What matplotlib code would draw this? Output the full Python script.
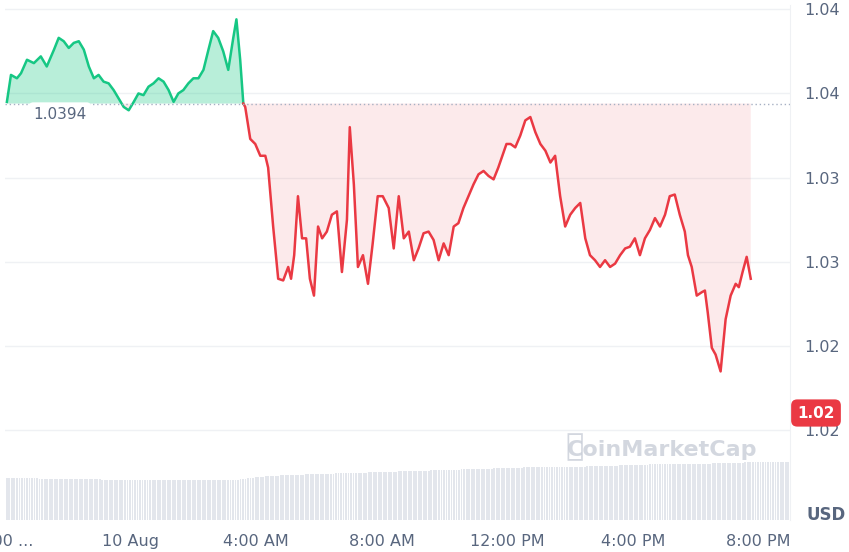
import matplotlib
matplotlib.use("Agg")
import matplotlib.pyplot as plt
import numpy as np

# readings from the chart: time position (hours since 10 Aug 00:00) and price
hours = [-3.94,-3.81,-3.62,-3.49,-3.3,-3.08,-2.86,-2.67,-2.44,-2.29,-2.13,-1.97,-1.81,-1.65,-1.49,-1.33,-1.17,-1.02,-0.86,-0.7,-0.54,-0.38,-0.22,-0.06,0.1,0.25,0.41,0.57,0.73,0.89,1.05,1.21,1.37,1.52,1.68,1.84,2.0,2.16,2.32,2.48,2.63,2.79,2.95,3.11,3.27,3.37,3.49,3.59,
 3.65,3.81,3.97,4.13,4.29,4.38,4.54,4.7,4.86,5.02,5.11,5.21,5.33,5.46,5.59,5.71,5.84,5.97,6.1,6.25,6.41,6.57,6.73,6.89,6.98,7.11,7.24,7.4,7.56,7.71,7.87,8.03,8.22,8.38,8.54,8.7,8.86,9.02,9.17,9.33,9.49,9.65,9.81,9.97,10.13,10.29,10.44,10.6,10.76,10.92,11.08,11.24,11.4,11.56,11.71,11.84,11.97,12.1,12.25,12.41,12.57,12.73,12.89,13.05,13.21,13.37,13.52,13.68,13.84,14.0,14.16,14.32,14.48,14.63,14.79,14.95,15.11,15.27,15.43,15.59,15.75,15.9,16.06,16.22,16.38,16.54,16.7,16.86,17.02,17.17,17.33,17.49,17.65,17.75,17.87,18.03,18.19,18.29,18.38,18.51,18.63,18.79,18.95,19.11,19.27,19.37,19.49,19.62,19.75]
price = [1.0395,1.0411,1.0409,1.0412,1.0420,1.0418,1.0422,1.0416,1.0426,1.0433,1.0431,1.0427,1.0430,1.0431,1.0426,1.0416,1.0409,1.0411,1.0407,1.0406,1.0402,1.0397,1.0392,1.0390,1.0395,1.0400,1.0399,1.0404,1.0406,1.0409,1.0407,1.0402,1.0395,1.0400,1.0402,1.0406,1.0409,1.0409,1.0414,1.0426,1.0437,1.0433,1.0425,1.0414,1.0433,1.0444,1.0420,1.0394,
 1.0392,1.0373,1.0370,1.0363,1.0363,1.0356,1.0321,1.0290,1.0289,1.0297,1.0290,1.0304,1.0339,1.0314,1.0314,1.0290,1.0280,1.0321,1.0314,1.0318,1.0328,1.0330,1.0294,1.0325,1.0380,1.0346,1.0297,1.0304,1.0287,1.0311,1.0339,1.0339,1.0332,1.0308,1.0339,1.0314,1.0318,1.0301,1.0308,1.0317,1.0318,1.0313,1.0301,1.0311,1.0304,1.0321,1.0323,1.0332,1.0339,1.0346,1.0352,1.0354,1.0351,1.0349,1.0356,1.0363,1.0370,1.0370,1.0368,1.0375,1.0384,1.0386,1.0377,1.0370,1.0366,1.0359,1.0363,1.0339,1.0321,1.0328,1.0332,1.0335,1.0314,1.0304,1.0301,1.0297,1.0301,1.0297,1.0299,1.0304,1.0308,1.0309,1.0314,1.0304,1.0314,1.0319,1.0326,1.0321,1.0328,1.0339,1.0340,1.0328,1.0318,1.0304,1.0297,1.0280,1.0282,1.0283,1.0270,1.0249,1.0245,1.0235,1.0266,1.0280,1.0287,1.0285,1.0294,1.0303,1.0290,1.0270,1.0259,1.0235,1.0214,1.0221,1.0214,1.0214,1.0219]
baseline = 1.0394
vol_hours = [-4,-2,0,2,3.3,4,5,6,7,8,9,10,11,12,13,14,15,16,17,18,19,20,21]
volume = [42,41,40,40,40,43,45,46,47,48,49,50,51,52,53,53,54,55,56,56,57,58,58]

n = min(len(hours), len(price))
h = np.array(hours[:n]); p = np.array(price[:n])

fig = plt.figure(figsize=(8.49, 5.52), dpi=100)
ax = fig.add_axes([5/849, 32/552, 785/849, 515/552])
ymin, ymax = 1.01468, 1.04525
ax.set_xlim(-3.97, 21.0)
ax.set_ylim(ymin, ymax)

vx = np.arange(-3.97, 21.0, 0.08)
vv = np.interp(vx, vol_hours, volume)
scale = (ymax - ymin) / 515
ax.bar(vx, vv * scale, bottom=ymin, width=0.06, color="#e3e6ec", align="edge", zorder=1)

ticks = [1.045, 1.04, 1.035, 1.03, 1.025, 1.02]
labels = ["1.04", "1.04", "1.03", "1.03", "1.02", "1.02"]
for t in ticks:
    ax.axhline(t, color="#eff1f4", lw=1, zorder=0)
ax.set_yticks(ticks)
ax.set_yticklabels(labels)
ax.yaxis.tick_right()
ax.tick_params(axis="y", length=0, pad=10, labelsize=11.5, labelcolor="#58667e")
ax.set_xticks([-4, 0, 4, 8, 12, 16, 20])
ax.set_xticklabels(["8:00 ...", "10 Aug", "4:00 AM", "8:00 AM", "12:00 PM", "4:00 PM", "8:00 PM"])
ax.tick_params(axis="x", length=0, pad=10, labelsize=11.5, labelcolor="#58667e")
for s in ["top", "left", "bottom"]:
    ax.spines[s].set_visible(False)
ax.spines["right"].set_color("#eff1f4")

ax.fill_between(h, p, baseline, where=p >= baseline, interpolate=True, color="#16c784", alpha=0.3, lw=0, zorder=2)
ax.fill_between(h, p, baseline, where=p <= baseline, interpolate=True, color="#ea3943", alpha=0.1, lw=0, zorder=2)
split = 48
ax.plot(h[:split], p[:split], color="#16c784", lw=1.8, zorder=3)
ax.plot(h[split - 1:], p[split - 1:], color="#ea3943", lw=1.8, zorder=3)
ax.axhline(baseline, color="#a6b0c3", lw=1, ls=(0, (1, 2)), zorder=3)

ax.text(0.07, baseline - 0.0002, "1.0394", transform=ax.get_yaxis_transform(), va="top", ha="center",
        fontsize=11, color="#58667e", bbox=dict(boxstyle="round,pad=0.3", fc="white", ec="none"), zorder=5)
fig.text(816/849, 1 - 413/552, "1.02", ha="center", va="center", fontsize=11, color="white", weight="bold",
         bbox=dict(boxstyle="round,pad=0.4", fc="#ea3943", ec="none"))
fig.text(826/849, 1 - 515/552, "USD", ha="center", va="center", fontsize=12, color="#58667e", weight="bold")
fig.text(662/849, 1 - 450/552, "CoinMarketCap", ha="center", va="center", fontsize=16, color="#c9ced8", alpha=0.8, weight="bold")
fig.text(575/849, 1 - 447/552, "Ⓜ", ha="center", va="center", fontsize=22, color="#c9ced8", alpha=0.8)
fig.savefig("out.png", dpi=100)
